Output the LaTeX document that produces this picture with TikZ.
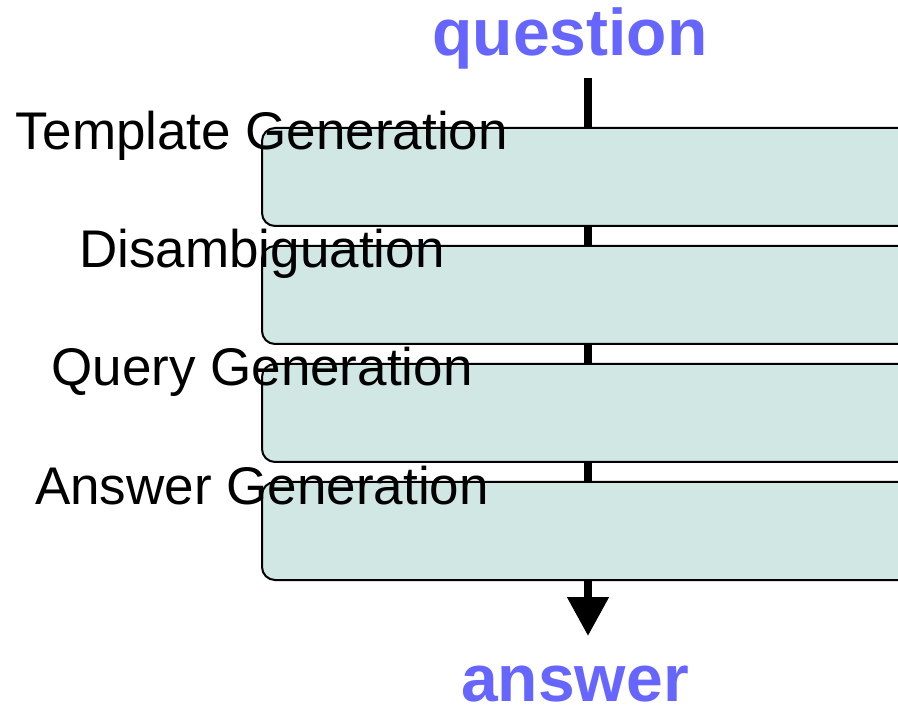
\documentclass[tikz,border=0pt]{standalone}
\usepackage{fontspec}
\setmainfont{Liberation Sans}
\usetikzlibrary{arrows.meta}
\definecolor{boxfill}{RGB}{208,231,228}
\definecolor{titleblue}{RGB}{102,102,255}
\tikzset{
  stagebox/.style={draw=black, line width=2pt, fill=boxfill, rounded corners=13pt},
  stagelabel/.style={anchor=base, inner sep=0pt, font=\fontsize{53}{60}\selectfont},
  endlabel/.style={anchor=base, inner sep=0pt, text=titleblue, font=\fontsize{66}{76}\selectfont\bfseries},
  flow/.style={line width=8pt, -{Triangle[width=40pt,length=39pt]}}
}
\begin{document}
\begin{tikzpicture}[x=1pt,y=-1pt]
\useasboundingbox (0,0) rectangle (898,711);
\clip (0,0) rectangle (898,711);
\coordinate (top) at (588,78);
\coordinate (tip) at (588,636);
\draw[flow] (top) -- (tip);
\foreach \t/\name in {128/b1,246/b2,364/b3,482/b4}{
  \draw[stagebox] (262,\t) rectangle (920,\t+98);
}
\node[stagelabel] (l1) at (262,150) {Template Generation};
\node[stagelabel] (l2) at (262,268) {Disambiguation};
\node[stagelabel] (l3) at (262,386) {Query Generation};
\node[stagelabel] (l4) at (262,504) {Answer Generation};
\node[endlabel] (q) at (570,56) {question};
\node[endlabel] (a) at (575,701) {answer};
\end{tikzpicture}
\end{document}
